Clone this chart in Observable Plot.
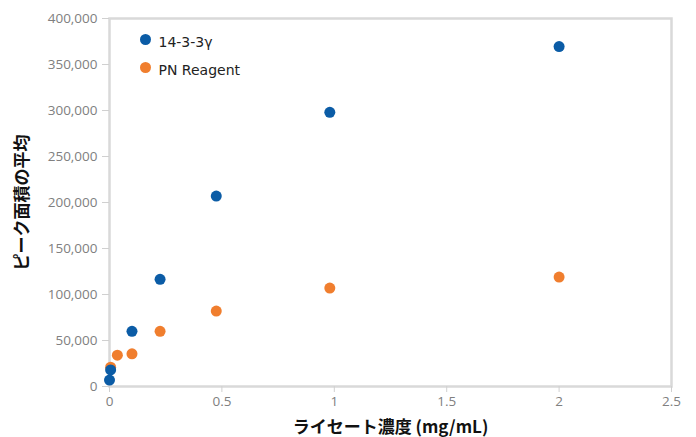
<!DOCTYPE html>
<html>
<head>
<meta charset="utf-8">
<script src="https://cdn.jsdelivr.net/npm/d3@7"></script>
<script src="https://cdn.jsdelivr.net/npm/@observablehq/plot@0.6"></script>
<style>
  html, body { margin: 0; padding: 0; background: #fff; }
  #chart svg { display: block; }
</style>
</head>
<body>
<div id="chart"></div>
<script>
// Series names and colours
const seriesNames = ["14-3-3γ", "PN Reagent"];
const seriesColors = ["#0b5ca6", "#f07e2e"];

// Lysate concentration (mg/mL)
const concBlue   = [0, 0.005, 0.1, 0.225, 0.475, 0.98, 2.0];
const areaBlue   = [7000, 18000, 60000, 116500, 207000, 298000, 369500];
const concOrange = [0.005, 0.035, 0.1, 0.225, 0.475, 0.98, 2.0];
const areaOrange = [21000, 34000, 35500, 60000, 82000, 107000, 119000];

const xTicks = [0, 0.5, 1, 1.5, 2, 2.5];
const yTicks = [0, 50000, 100000, 150000, 200000, 250000, 300000, 350000, 400000];

const xLabel = "ライセート濃度 (mg/mL)";
const yLabel = "ピーク面積の平均";

const data = [
  ...concOrange.map((x, i) => ({x, y: areaOrange[i], s: seriesNames[1]})),
  ...concBlue.map((x, i) => ({x, y: areaBlue[i], s: seriesNames[0]}))
];

const fmt = d3.format(",");

const legendMarks = seriesNames.flatMap((name, i) => [
  Plot.dot([name], {
    frameAnchor: "top-left", dx: 36, dy: 21 + 28 * i,
    fill: seriesColors[i], r: 5.5
  }),
  Plot.text([name], {
    frameAnchor: "top-left", dx: 49, dy: 21 + 28 * i + 3,
    text: d => d, textAnchor: "start", lineAnchor: "middle",
    fontSize: 14, fill: "#222", fontFamily: "'DejaVu Sans', sans-serif"
  })
]);

const chart = Plot.plot({
  width: 696,
  height: 437,
  marginLeft: 109,
  marginRight: 25,
  marginTop: 18,
  marginBottom: 51,
  style: {fontFamily: "'Open Sans', sans-serif", background: "#fff"},
  x: {domain: [0, 2.5]},
  y: {domain: [0, 400000]},
  color: {domain: seriesNames, range: seriesColors},
  marks: [
    Plot.frame({stroke: "#d9d9d9", strokeWidth: 2.5}),
    Plot.axisY(yTicks, {
      tickSize: 7, tickPadding: 5, stroke: "#d0d0d0", tickFormat: fmt,
      fill: "#808080", fontSize: 13.5, label: null
    }),
    Plot.axisX(xTicks, {
      tickSize: 6, tickPadding: 4, stroke: "#d0d0d0", tickFormat: d => String(d),
      fill: "#808080", fontSize: 13.5, label: null
    }),
    Plot.dot(data, {x: "x", y: "y", fill: "s", r: 5.5}),
    ...legendMarks,
    Plot.text([xLabel], {
      frameAnchor: "bottom", dy: 41, text: d => d,
      textAnchor: "middle", lineAnchor: "middle",
      fontSize: 17, fontWeight: "bold", fill: "#111",
      fontFamily: "'Noto Sans CJK JP', sans-serif"
    }),
    Plot.text([yLabel], {
      frameAnchor: "left", dx: -87, rotate: -90, text: d => d,
      textAnchor: "middle", lineAnchor: "middle",
      fontSize: 17, fontWeight: "bold", fill: "#111",
      fontFamily: "'Noto Sans CJK JP', sans-serif"
    })
  ]
});
document.getElementById("chart").append(chart);
</script>
</body>
</html>
